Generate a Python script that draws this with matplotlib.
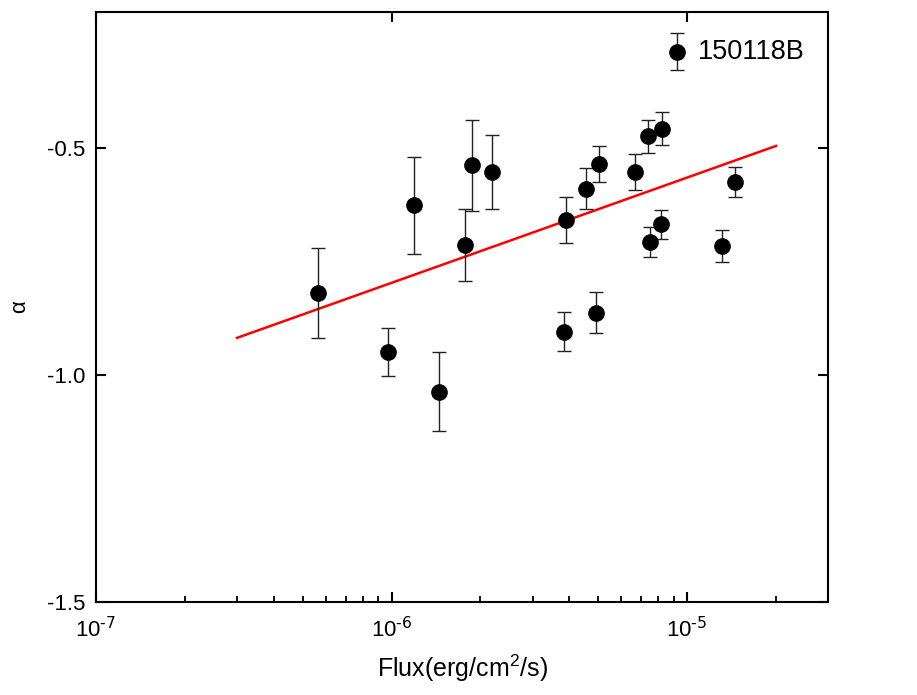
import numpy as np
import matplotlib
matplotlib.use("Agg")
from matplotlib import pyplot as plt
from matplotlib.ticker import LogLocator, FixedLocator, FuncFormatter

plt.rcParams['font.family'] = ['Liberation Sans', 'DejaVu Sans']
plt.rcParams['mathtext.default'] = 'regular'
plt.rcParams['axes.unicode_minus'] = False

# flux (erg/cm^2/s), alpha and its error
flux = [5.64e-7, 9.7e-7, 1.19e-6, 1.45e-6, 1.77e-6, 1.87e-6, 2.18e-6,
        3.84e-6, 3.9e-6, 4.54e-6, 4.91e-6, 5.04e-6, 6.67e-6, 7.4e-6,
        7.5e-6, 8.15e-6, 8.25e-6, 9.23e-6, 1.31e-5, 1.45e-5]
alpha = [-0.819, -0.949, -0.626, -1.037, -0.714, -0.538, -0.553,
         -0.904, -0.658, -0.589, -0.863, -0.535, -0.553, -0.474,
         -0.707, -0.668, -0.457, -0.287, -0.715, -0.574]
alpha_err = [0.10, 0.053, 0.107, 0.087, 0.079, 0.10, 0.082,
             0.042, 0.05, 0.046, 0.045, 0.04, 0.04, 0.037,
             0.033, 0.032, 0.037, 0.04, 0.035, 0.033]

# linear fit in log flux
fit_x = [3e-7, 2e-5]
fit_y = [-0.918, -0.495]

label_name = '150118B'
label_idx = 17

fig = plt.figure(figsize=(9.17, 6.95), dpi=100)
ax = fig.add_axes([0.1047, 0.1338, 0.7983, 0.8489])

ax.errorbar(flux, alpha, yerr=alpha_err, fmt='o', color='black', ms=11,
            ecolor='#222222', elinewidth=1, capsize=5, capthick=1, zorder=3)
ax.plot(fit_x, fit_y, color='red', lw=1.8, zorder=2)

ax.text(flux[label_idx] * 1.18, alpha[label_idx], label_name, fontsize=19.5,
        va='center', ha='left')

ax.set_xscale('log')
ax.set_xlim(1e-7, 3e-5)
ax.set_ylim(-1.5, -0.2)
ax.yaxis.set_major_locator(FixedLocator([-1.5, -1.0, -0.5]))
ax.yaxis.set_major_formatter(FuncFormatter(lambda v, p: '%.1f' % v))
ax.xaxis.set_major_locator(LogLocator(base=10, numticks=10))
ax.xaxis.set_minor_locator(LogLocator(base=10, subs=np.arange(2, 10), numticks=10))
ax.xaxis.set_major_formatter(FuncFormatter(
    lambda v, p: r'$10^{\text{-%d}}$' % abs(round(np.log10(v)))))
ax.xaxis.set_minor_formatter(FuncFormatter(lambda v, p: ''))

for s in ax.spines.values():
    s.set_linewidth(1.5)
ax.tick_params(which='major', direction='in', length=7, width=1.5,
               labelsize=16, top=True, right=True, pad=11)
ax.tick_params(which='major', axis='y', pad=8)
ax.tick_params(which='minor', direction='in', length=4, width=1.3,
               top=False, right=False)

ax.set_xlabel(r'Flux(erg/cm$^2$/s)', fontsize=18, labelpad=7)
ax.set_ylabel('α', fontsize=16, labelpad=12)

fig.savefig('out.png', dpi=100)
